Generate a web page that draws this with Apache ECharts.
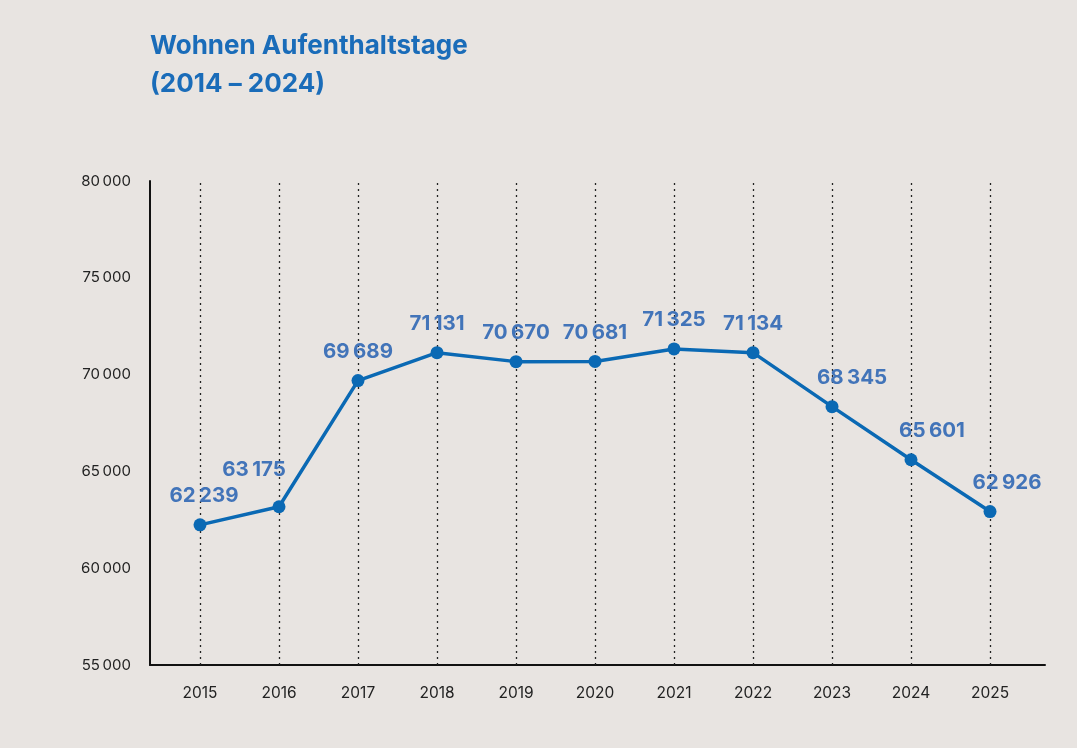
<!DOCTYPE html>
<html>
<head>
<meta charset="utf-8">
<script src="https://cdn.jsdelivr.net/npm/echarts@6/dist/echarts.min.js"></script>
<style>
html,body{margin:0;padding:0;background:#e8e4e1;}
#chart{width:1077px;height:748px;}
</style>
</head>
<body>
<div id="chart"></div>
<script>
const years = [2015, 2016, 2017, 2018, 2019, 2020, 2021, 2022, 2023, 2024, 2025];
const values = [62239, 63175, 69689, 71131, 70670, 70681, 71325, 71134, 68345, 65601, 62926];
const yTicks = [55000, 60000, 65000, 70000, 75000, 80000];
const titleLines = ['Wohnen Aufenthaltstage', '(2014 – 2024)'];

function fmt(v, sep) {
  const s = String(Math.round(v));
  return s.replace(/\B(?=(\d{3})+(?!\d))/g, sep);
}

// per-point label nudges (style only)
const labelNudge = {0: [4, 0], 1: [-25, -8], 8: [20, 0], 9: [21, 0], 10: [17, 0]};

const chart = echarts.init(document.getElementById('chart'));
chart.setOption({
  backgroundColor: '#e8e4e1',
  title: {
    text: titleLines.join('\n'),
    left: 145, top: 22,
    textStyle: {color: '#1a6cb9', fontFamily: 'Inter', fontWeight: 'bold', fontSize: 26, lineHeight: 38}
  },
  grid: {left: 150, right: 32, top: 181, bottom: 83},
  xAxis: {
    type: 'value', min: 2014.367, max: 2025.696,
    axisLine: {show: true, onZero: false, lineStyle: {color: '#111', width: 2}},
    axisTick: {show: false},
    splitLine: {show: false},
    axisLabel: {customValues: years, color: '#222', fontFamily: 'Inter', fontSize: 15.5, margin: 20,
      formatter: v => String(Math.round(v))}
  },
  yAxis: {
    type: 'value', min: yTicks[0], max: yTicks[yTicks.length - 1], interval: 5000,
    axisLine: {show: true, lineStyle: {color: '#111', width: 2}},
    axisTick: {show: false},
    splitLine: {show: false},
    axisLabel: {color: '#222', fontFamily: 'Inter', fontSize: 15, margin: 19, formatter: v => fmt(v, '\u2009')}
  },
  series: [{
    type: 'line',
    data: years.map((y, i) => {
      const item = {value: [y, values[i]]};
      if (labelNudge[i]) item.label = {offset: labelNudge[i]};
      return item;
    }),
    symbol: 'circle', symbolSize: 13,
    lineStyle: {color: '#0a69b4', width: 3.5},
    itemStyle: {color: '#0a69b4'},
    label: {
      show: true, position: 'top', distance: 12,
      color: '#4274b9', fontFamily: 'Inter', fontWeight: 'bold', fontSize: 20.5,
      formatter: p => fmt(p.value[1], '\u2006')
    },
    markLine: {
      silent: true, symbol: 'none',
      label: {show: false},
      lineStyle: {color: '#222', type: [2, 4], width: 1.3},
      data: years.map(y => ({xAxis: y}))
    },
    z: 5
  }]
});
</script>
</body>
</html>
